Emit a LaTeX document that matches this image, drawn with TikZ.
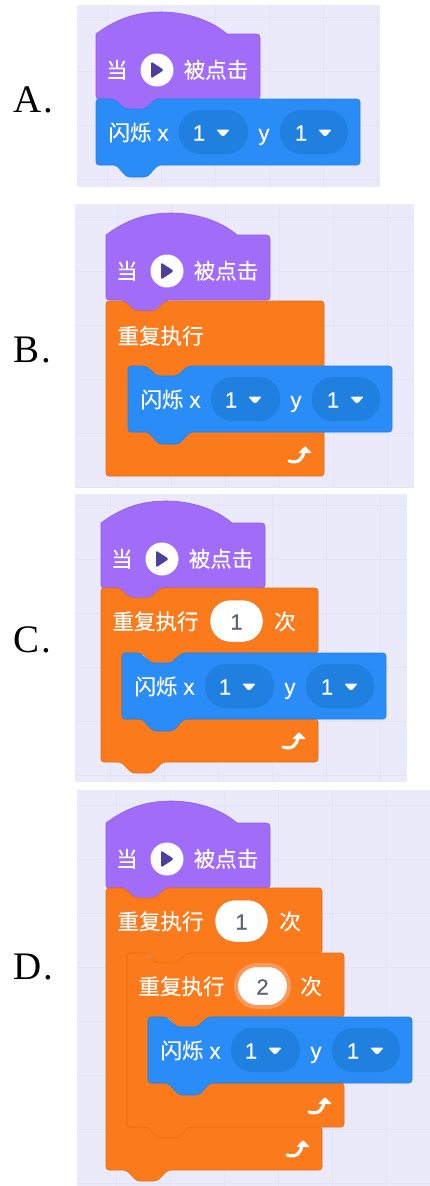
\documentclass[tikz,border=0pt]{standalone}
\usepackage{fontspec}
\setmainfont{Liberation Serif}
\newfontfamily\cnf[FakeBold=0.35]{Noto Sans CJK SC}
\newfontfamily\lat[FakeBold=0.3]{Liberation Sans}
\definecolor{bgc}{HTML}{EBEAFA}
\definecolor{gridc}{HTML}{E4E3F3}
\definecolor{purp}{HTML}{A06CF8}
\definecolor{purpd}{HTML}{8F5BE6}
\definecolor{blu}{HTML}{2A8CF6}
\definecolor{blud}{HTML}{2480E4}
\definecolor{pill}{HTML}{2080E0}
\definecolor{org}{HTML}{FB7A1C}
\definecolor{orgd}{HTML}{E56C12}
\definecolor{ringc}{HTML}{F99A5C}
\definecolor{play}{HTML}{4F3E9E}
\definecolor{numc}{HTML}{5F6478}
\tikzset{
  x=1pt,y=-1pt,
  cn/.style={inner sep=0pt,anchor=base,text=white,font=\fontsize{21.5}{21.5}\cnf},
  la/.style={inner sep=0pt,anchor=base,text=white,font=\fontsize{22}{22}\lat},
  opt/.style={inner sep=0pt,anchor=base west,font=\fontsize{39}{39}\selectfont},
  hatshape/.style={fill=purp,draw=purpd,line width=.6pt},
  blueshape/.style={fill=blu,draw=blud,line width=.6pt,rounded corners=3pt},
  orgshape/.style={fill=org,draw=orgd,line width=.6pt,rounded corners=3pt},
  gridline/.style={draw=gridc,line width=1pt},
}
\newcommand{\panelbg}[6]{%
  \fill[bgc] (#1,#2) rectangle (#3,#4);
  \begin{scope}
    \clip (#1,#2) rectangle (#3,#4);
    \foreach \i in {0,...,7} {
      \draw[gridline] (#5+54*\i,#2) -- (#5+54*\i,#4);
      \draw[gridline] (#1,#6+54*\i) -- (#3,#6+54*\i);
    }
  \end{scope}}
\newcommand{\hatblock}[2]{%
  \begin{scope}[shift={(#1,#2)},name prefix=hat#1-]
    \draw[hatshape] (0,22) .. controls (20,7) and (40,0) .. (65,0)
      .. controls (90,0) and (115,8) .. (131,22) -- (160,22)
      .. controls (163,22) and (164,23) .. (164,26) -- (164,84)
      .. controls (164,86) and (163,87) .. (161,87) -- (62,87)
      -- (51,98) -- (29,98) -- (16,87) -- (3,87)
      .. controls (1,87) and (0,86) .. (0,84) -- cycle;
    \node[cn] (a) at (21,66) {当};
    \node[circle,fill=white,minimum size=33pt,inner sep=0pt] (b) at (61,58) {};
    \fill[play,rounded corners=1.5pt] (55,49.5) -- (68,58) -- (55,66.5) -- cycle;
    \node[cn] (c) at (120,66) {被点击};
  \end{scope}}
\newcommand{\flash}[2]{%
  \begin{scope}[shift={(#1,#2)},name prefix=fl#2-]
    \draw[blueshape] (0,0) -- (18,0) -- (29,10) -- (49,10) -- (60,0) -- (264,0)
      -- (264,66) -- (62,66) -- (51,78) -- (31,78) -- (20,66) -- (0,66) -- cycle;
    \node[cn] (a) at (34,41.5) {闪烁};
    \node[la] (b) at (67,41.5) {x};
    \fill[pill,rounded corners=21pt] (83,11) rectangle (152,55);
    \node[la] (c) at (103,41.5) {1};
    \fill[white,rounded corners=1.5pt] (120,30.5) -- (134,30.5) -- (127,38) -- cycle;
    \node[la] (d) at (168,41.5) {y};
    \fill[pill,rounded corners=21pt] (184,11) rectangle (252,55);
    \node[la] (e) at (205,41.5) {1};
    \fill[white,rounded corners=1.5pt] (222,30.5) -- (236,30.5) -- (229,38) -- cycle;
  \end{scope}}
\newcommand{\looparrow}[2]{%
  \begin{scope}[shift={(#1,#2)}]
    \draw[white,line width=3.2pt,line cap=round] (-35,-15) .. controls (-26,-12) and (-21,-17) .. (-20,-25);
    \fill[white,rounded corners=1pt] (-19,-30) -- (-12,-23) -- (-26,-23) -- cycle;
  \end{scope}}
\newcommand{\cbody}[6]{%
  \begin{scope}[shift={(#1,#2)}]
    \draw[orgshape] (0,0) -- (18,0) -- (29,10) -- (49,10) -- (60,0) -- (#3,0)
      -- (#3,#4) -- (83,#4) -- (72,#4+11) -- (52,#4+11) -- (41,#4) -- (21,#4) -- (21,#4+#5) -- (#3,#4+#5) -- (#3,#4+#5+#6)
      -- (62,#4+#5+#6) -- (51,#4+#5+#6+11) -- (31,#4+#5+#6+11) -- (20,#4+#5+#6) -- (0,#4+#5+#6) -- cycle;
  \end{scope}
  \looparrow{#1+#3}{#2+#4+#5+#6}}
\begin{document}
\begin{tikzpicture}
\useasboundingbox (0,0) rectangle (430,1186);
\fill[white] (0,0) rectangle (430,1186);
\panelbg{77}{5}{380}{187}{107}{17}
\panelbg{75}{204}{414}{488}{117}{217}
\panelbg{75}{494}{407}{782}{110}{505}
\panelbg{77}{790}{430}{1186}{116}{805}
\node[opt] (la) at (13,112) {A\hspace{2pt}.};
\node[opt] (lb) at (13,362) {B\hspace{2pt}.};
\node[opt] (lc) at (13,652) {C\hspace{2pt}.};
\node[opt] (ld) at (13,979) {D\hspace{2pt}.};
% A
\hatblock{96}{12}
\flash{96}{99}
% B
\hatblock{106}{213}
\begin{scope}[shift={(106,301)}]
  \draw[orgshape] (0,0) -- (18,0) -- (29,10) -- (49,10) -- (60,0) -- (218,0) -- (218,175) -- (0,175) -- cycle;
  \node[cn] (brep) at (54.5,43) {重复执行};
\end{scope}
\flash{128}{366}
\looparrow{324}{476}
% C
\hatblock{101}{501}
\cbody{101}{588}{217}{65}{66}{43}
\begin{scope}[shift={(101,588)}]
  \node[cn] (crep) at (54.5,41.5) {重复执行};
  \fill[white,draw=orgd,line width=.5pt,rounded corners=20pt] (109,12) rectangle (162,54);
  \node[la,text=numc] (cn) at (135.5,41.5) {1};
  \node[cn] (cc) at (184,41.5) {次};
\end{scope}
\flash{122}{653}
% D
\hatblock{106}{801}
\cbody{106}{888}{216}{65}{174}{43}
\begin{scope}[shift={(106,888)}]
  \node[cn] (drep) at (54.5,41.5) {重复执行};
  \fill[white,draw=orgd,line width=.5pt,rounded corners=20pt] (109,12) rectangle (162,54);
  \node[la,text=numc] (dn) at (135.5,41.5) {1};
  \node[cn] (dc) at (184,41.5) {次};
\end{scope}
\cbody{127}{953}{217}{64}{66}{44}
\begin{scope}[shift={(127,953)}]
  \node[cn] (erep) at (54.5,41.5) {重复执行};
  \fill[white,draw=ringc,line width=4pt,rounded corners=21pt] (109,12) rectangle (162,54);
  \node[la,text=numc] (en) at (135.5,41.5) {2};
  \node[cn] (ec) at (184,41.5) {次};
\end{scope}
\flash{148}{1017}
\end{tikzpicture}
\end{document}
